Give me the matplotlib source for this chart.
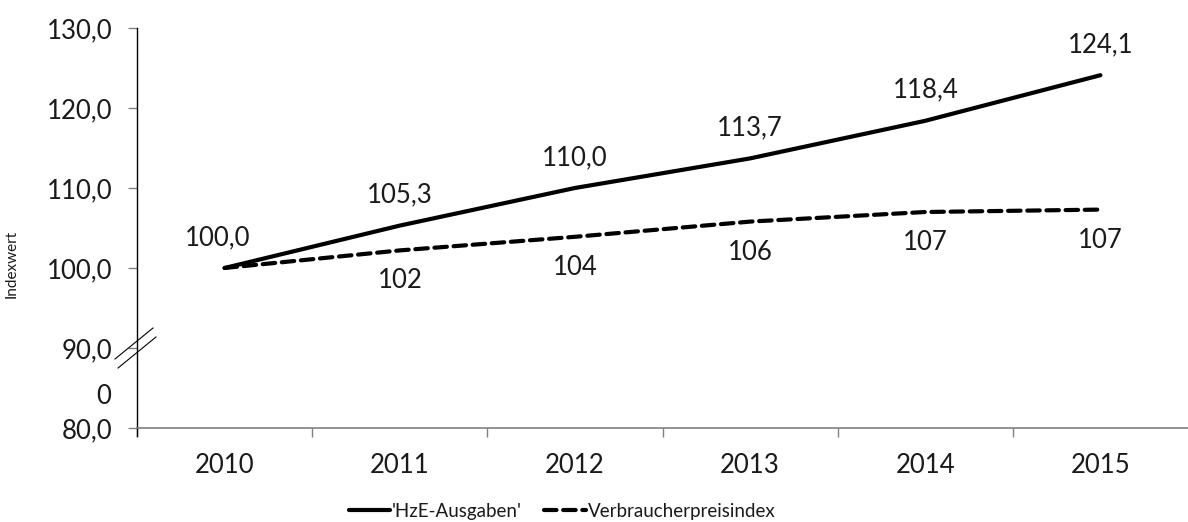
import matplotlib
matplotlib.use("Agg")
import matplotlib.pyplot as plt
from matplotlib.lines import Line2D
from matplotlib.ticker import FixedLocator

years = ["2010", "2011", "2012", "2013", "2014", "2015"]
hze = [100.0, 105.3, 110.0, 113.7, 118.4, 124.1]
vpi = [100.0, 102.2, 103.9, 105.8, 107.0, 107.3]
hze_labels = ["100,0", "105,3", "110,0", "113,7", "118,4", "124,1"]
vpi_labels = ["", "102", "104", "106", "107", "107"]
yticks = [80, 90, 100, 110, 120, 130]
ytick_labels = ["80,0", "90,0", "100,0", "110,0", "120,0", "130,0"]

plt.rcParams['font.family'] = ['Lato', 'DejaVu Sans']
W, H = 1188, 522
FS = 18.5
fig = plt.figure(figsize=(W / 100, H / 100), dpi=100)
ax = fig.add_axes([137 / W, (H - 428) / H, (1188 - 137) / W, 400 / H])

x = list(range(len(years)))
ax.plot(x, hze, color='black', lw=3, solid_capstyle='round', label="'HzE-Ausgaben'")
ax.plot(x, vpi, color='black', lw=3, linestyle=(0, (3, 1.6)), dash_capstyle='round',
        label='Verbraucherpreisindex')

for xi, v, t in zip(x, hze, hze_labels):
    ax.annotate(t, (xi, v), xytext=(-5 if xi == 0 else 0, 22), textcoords='offset points',
                ha='center', va='center', fontsize=FS, color='#1a1a1a')
for xi, v, t in zip(x, vpi, vpi_labels):
    if t:
        ax.annotate(t, (xi, v), xytext=(0, -22), textcoords='offset points',
                    ha='center', va='center', fontsize=FS, color='#1a1a1a')

ax.set_xlim(-0.5, 5.5)
ax.set_ylim(80, 130)
ax.set_yticks(yticks)
ax.set_yticklabels(ytick_labels, fontsize=FS, color='#1a1a1a')
ax.tick_params(axis='y', length=6.5, width=1, color='#808080', pad=11)
ax.set_xticks(x)
ax.set_xticklabels(years, fontsize=FS, color='#1a1a1a')
ax.tick_params(axis='x', which='major', length=0, pad=18)
ax.xaxis.set_minor_locator(FixedLocator([-0.5, 0.5, 1.5, 2.5, 3.5, 4.5]))
ax.tick_params(axis='x', which='minor', length=6.5, width=1, color='#808080', direction='out')

for s in ['top', 'right']:
    ax.spines[s].set_visible(False)
ax.spines['left'].set_color('black')
ax.spines['left'].set_linewidth(1)
ax.spines['bottom'].set_color('#808080')
ax.spines['bottom'].set_linewidth(1.2)
# y axis extends slightly below the x axis
ax.add_line(Line2D([0, 0], [0, -0.02], transform=ax.transAxes, color='black', lw=1, clip_on=False))

ax.set_ylabel('Indexwert', fontsize=11, color='#1a1a1a')
ax.yaxis.set_label_coords(-0.113, 0.41)

# extra "0" label and axis break marks
ax.text(-0.025, (428 - 397) / 400, '0', transform=ax.transAxes, ha='right', va='center',
        fontsize=FS, color='#1a1a1a')
for dx, dy in [(0, 0), (3, 9)]:
    x0, y0, x1, y1 = 115 + dx, 359 + dy, 153 + dx, 328 + dy
    fig.add_artist(Line2D([x0 / W, x1 / W], [(H - y0) / H, (H - y1) / H], color='black', lw=0.8))

leg = fig.legend(loc='center', bbox_to_anchor=(562 / W, (H - 511) / H), ncol=2, frameon=False,
                 fontsize=13.5, handlelength=2.2, handletextpad=0.1, columnspacing=1.2)
for t in leg.get_texts():
    t.set_color('#1a1a1a')

fig.savefig('out.png', dpi=100)
